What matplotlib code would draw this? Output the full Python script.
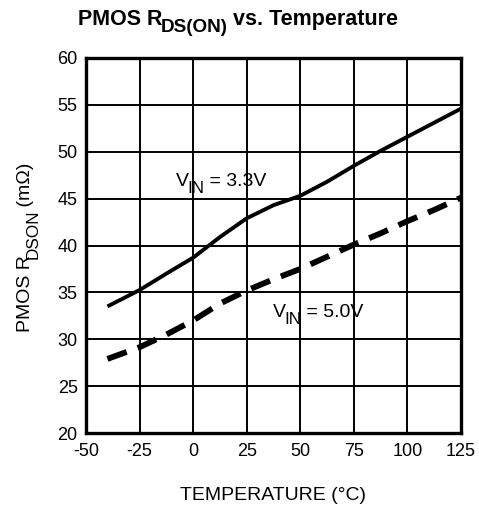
import numpy as np
import matplotlib
matplotlib.use("Agg")
import matplotlib.pyplot as plt

plt.rcParams["font.family"] = ["Liberation Sans", "DejaVu Sans"]
plt.rcParams["axes.unicode_minus"] = False

# temperature (°C) and PMOS RDSON (mOhm)
temp_33 = [-40, -25, -12.5, 0, 12.5, 25, 37.5, 50, 62.5, 75, 87.5, 100, 112.5, 125]
rds_33 = [33.5, 35.25, 37.0, 38.7, 40.9, 42.9, 44.3, 45.3, 46.8, 48.5, 50.1, 51.6, 53.1, 54.6]

temp_50 = [-40, -25, -12.5, 0, 12.5, 25, 37.5, 50, 62.5, 75, 87.5, 100, 112.5, 125]
rds_50 = [27.9, 29.15, 30.5, 32.0, 33.8, 35.2, 36.4, 37.5, 38.8, 40.1, 41.3, 42.6, 43.8, 45.1]

x_ticks = [-50, -25, 0, 25, 50, 75, 100, 125]
y_ticks = [20, 25, 30, 35, 40, 45, 50, 55, 60]


def sub_text(ax, x, y, parts, size, drop=5, vertical=False, tight=1.5, tight_after=0.0, **kw):
    """Write text with big datasheet-style subscripts; parts = [(str, is_sub)].
    vertical=True writes it rotated 90 deg (reading bottom to top)."""
    if vertical:
        kw.update(rotation=90, ha="right", va="bottom")
        nxt, off = (1, 1), (lambda d, a: (d, a))
    else:
        kw.update(va="bottom")
        nxt, off = (1, 0), (lambda d, a: (a, -d))
    first, _ = parts[0]
    t = ax.text(x, y, first, fontsize=size, **kw)
    prev_sub = False
    for s, is_sub in parts[1:]:
        shift, along = 0, 0
        if is_sub and not prev_sub:
            shift, along = drop, -tight
        elif prev_sub and not is_sub:
            shift, along = -drop, -tight_after
        t = ax.annotate(s, xy=nxt, xycoords=t, xytext=off(shift, along),
                        textcoords="offset points",
                        fontsize=size * (0.88 if is_sub else 1), **kw)
        prev_sub = is_sub
    return t


def main():
    fig = plt.figure(figsize=(4.79, 5.08), dpi=100)
    ax = fig.add_axes([86 / 479, 1 - 433 / 508, 375 / 479, 375 / 508])

    ax.plot(temp_33, rds_33, color="black", lw=2.8, solid_capstyle="butt")
    ax.plot(temp_50, rds_50, color="black", lw=4.2, linestyle=(0, (3.5, 2.0)),
            dash_capstyle="butt")

    ax.set_xlim(-50, 125)
    ax.set_ylim(20, 60)
    ax.set_xticks(x_ticks)
    ax.set_yticks(y_ticks)
    ax.tick_params(length=0, labelsize=13)
    ax.tick_params(axis="x", pad=7)
    ax.tick_params(axis="y", pad=6)
    ax.grid(True, color="black", lw=1.4)
    ax.set_axisbelow(True)
    for s in ax.spines.values():
        s.set_linewidth(2.4)

    sub_text(ax, -8, 45.95, [("V", False), ("IN", True), (" = 3.3V", False)], 14, drop=4.5)
    sub_text(ax, 37.3, 31.95, [("V", False), ("IN", True), (" = 5.0V", False)], 14, drop=4.5)

    fig.text(0.5 * (86 + 461) / 479, 1 - 496 / 508, "TEMPERATURE (°C)",
             fontsize=14, ha="center", va="center")

    # pixel-space overlay for the title and the y label
    tax = fig.add_axes([0, 0, 1, 1], frameon=False)
    tax.set_axis_off()
    tax.set_xlim(0, 479)
    tax.set_ylim(508, 0)
    sub_text(tax, 78, 30, [("PMOS R", False), ("DS(ON)", True), (" vs. Temperature", False)],
             15.5, drop=4, fontweight="bold")
    sub_text(tax, 34, 332, [("PMOS R", False), ("DSON", True), (" (mΩ)", False)],
             14, drop=4.5, vertical=True, tight=2.5, tight_after=2.0)

    fig.savefig("out.png", dpi=100)


if __name__ == "__main__":
    main()
